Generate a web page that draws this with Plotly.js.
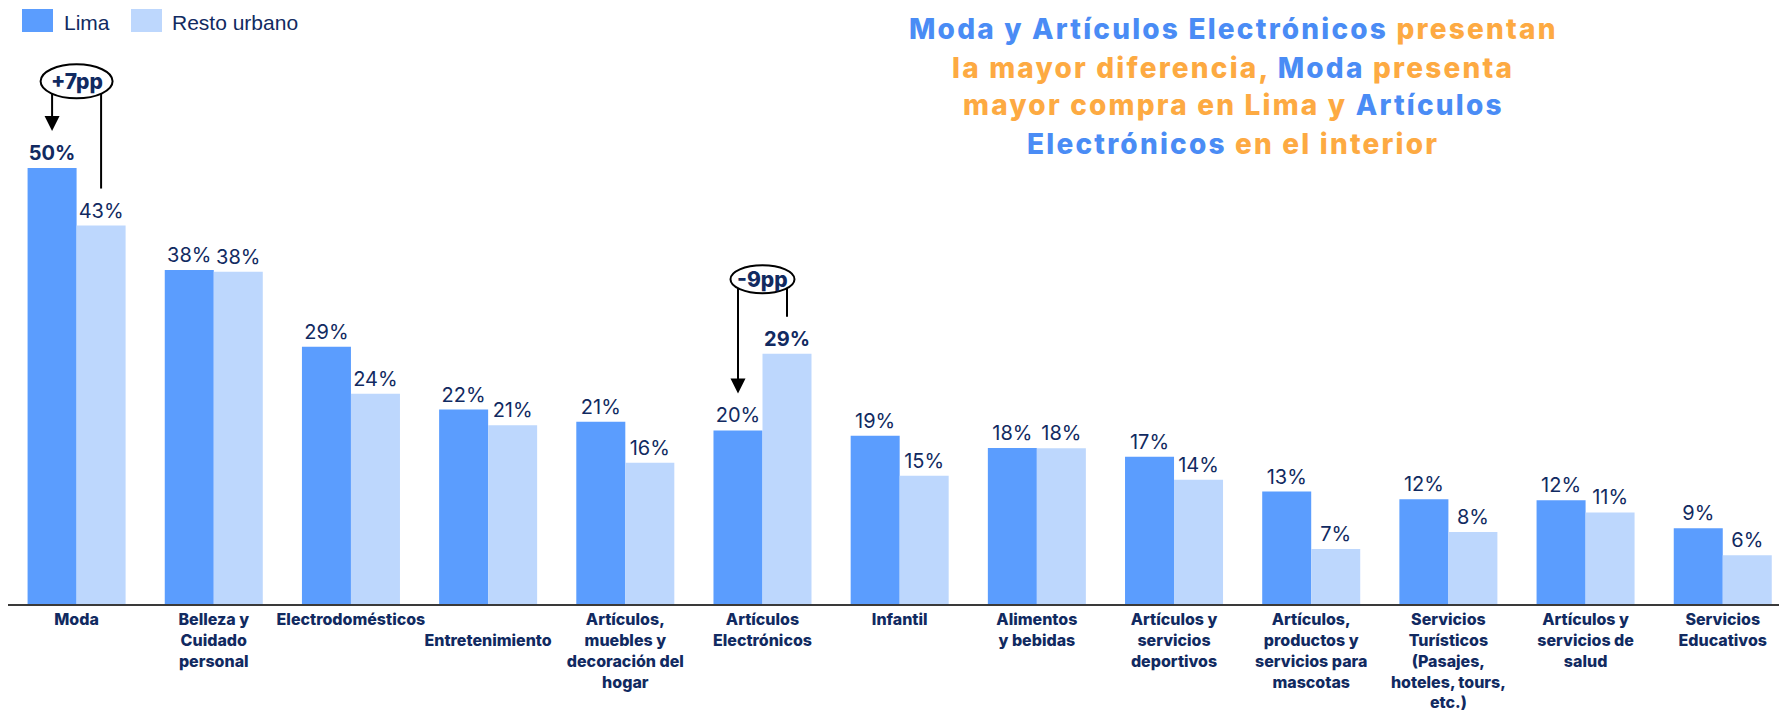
<!DOCTYPE html>
<html><head><meta charset="utf-8">
<script src="https://cdn.plot.ly/plotly-3.0.1.min.js"></script>
<style>html,body{margin:0;padding:0;background:#fff}</style>
</head><body>
<div id="chart" style="width:1781px;height:714px"></div>
<script>
// ---------- DATA ----------
const categories = ['Moda','Belleza y Cuidado personal','Electrodomésticos','Entretenimiento',
  'Artículos, muebles y decoración del hogar','Artículos Electrónicos','Infantil','Alimentos y bebidas',
  'Artículos y servicios deportivos','Artículos, productos y servicios para mascotas',
  'Servicios Turísticos (Pasajes, hoteles, tours, etc.)','Artículos y servicios de salud','Servicios Educativos'];
const tickLabels = ['Moda','Belleza y<br>Cuidado<br>personal','Electrodomésticos',' <br>Entretenimiento',
  'Artículos,<br>muebles y<br>decoración del<br>hogar','Artículos<br>Electrónicos','Infantil','Alimentos<br>y bebidas',
  'Artículos y<br>servicios<br>deportivos','Artículos,<br>productos y<br>servicios para<br>mascotas',
  'Servicios<br>Turísticos<br>(Pasajes,<br>hoteles, tours,<br>etc.)','Artículos y<br>servicios de<br>salud','Servicios<br>Educativos'];
const seriesNames = ['Lima','Resto urbano'];
const limaValues  = [50, 38.3, 29.5, 22.3, 20.9, 19.9, 19.3, 17.9, 16.9, 12.9, 12.0, 11.9, 8.7];
const restoValues = [43.4, 38.1, 24.1, 20.5, 16.2, 28.7, 14.7, 17.85, 14.25, 6.3, 8.25, 10.5, 5.6];
const limaLabels  = [50, 38, 29, 22, 21, 20, 19, 18, 17, 13, 12, 12, 9];
const restoLabels = [43, 38, 24, 21, 16, 29, 15, 18, 14, 7, 8, 11, 6];
const boldLima  = [0];
const boldResto = [5];
const diffCats   = [0, 5];
const diffLabels = ['+7pp', '-9pp'];
const titleLines = [
  [['b','Moda y Artículos Electrónicos '],['o','presentan']],
  [['o','la mayor diferencia, '],['b','Moda '],['o','presenta']],
  [['o','mayor compra en Lima y '],['b','Artículos']],
  [['b','Electrónicos '],['o','en el interior']]
];

// ---------- STYLE / LAYOUT ----------
const W = 1781, H = 714;
const M = {l: 8, r: 2, t: 20, b: 110};
const plotW = W - M.l - M.r, plotH = H - M.t - M.b;
const xRange = [-0.5, 12.41];
const yMax = 66.97;
const pxX = plotW / (xRange[1] - xRange[0]);
const pxY = plotH / yMax;
const navy = '#112a61';
const cLima = '#5b9dfe', cResto = '#bdd7fd';
const cBlue = '#4a8cf5', cOrange = '#fdaa42';
const bargap = 0.2855;
const half = (1 - bargap) / 4; // offset of each bar center from group center
const px = x => (x - M.l) / plotW;
const py = y => (H - M.b - y) / plotH;

function lbl(vals, bold) {
  return vals.map((v, i) => bold.includes(i) ? '<b>' + v + '%</b>' : v + '%');
}

const traces = [
  {type: 'bar', name: seriesNames[0], x: categories, y: limaValues,
   marker: {color: cLima}, text: lbl(limaLabels, boldLima), textposition: 'outside',
   textfont: {family: 'Inter, sans-serif', size: 20, color: navy}, constraintext: 'none',
   cliponaxis: false, hoverinfo: 'none'},
  {type: 'bar', name: seriesNames[1], x: categories, y: restoValues,
   marker: {color: cResto}, text: lbl(restoLabels, boldResto), textposition: 'outside',
   textfont: {family: 'Inter, sans-serif', size: 20, color: navy}, constraintext: 'none',
   cliponaxis: false, hoverinfo: 'none'}
];

const shapes = [];
const annotations = [];

// legend (drawn manually for swatch size)
const legendItems = [
  {name: seriesNames[0], color: cLima, x0: 22, x1: 53, tx: 62},
  {name: seriesNames[1], color: cResto, x0: 131, x1: 162, tx: 170}
];
legendItems.forEach(it => {
  shapes.push({type: 'rect', xref: 'paper', yref: 'paper', x0: px(it.x0), x1: px(it.x1),
    y0: py(32), y1: py(9), fillcolor: it.color, line: {width: 0}});
  annotations.push({xref: 'paper', yref: 'paper', x: px(it.tx), y: py(22.7), xanchor: 'left', yanchor: 'middle',
    text: it.name, showarrow: false, font: {family: 'Liberation Sans, Arial, sans-serif', size: 21, color: navy}});
});

// title lines
const titleY = [29.5, 67.5, 105.5, 143.5];
titleLines.forEach((parts, k) => {
  const txt = parts.map(p => '<span style="color:' + (p[0] === 'b' ? cBlue : cOrange) + ';letter-spacing:2.2px">' + p[1] + '</span>').join('');
  annotations.push({xref: 'paper', yref: 'paper', x: px(1233), y: py(titleY[k]), xanchor: 'center', yanchor: 'middle',
    text: txt, showarrow: false, font: {family: 'Inter, sans-serif', size: 28, color: cBlue, weight: 800}});
});

// difference markers
const ellipseOffset = [86.7, 74.5];
const ellipseR = [[36, 17], [32, 14]];
diffCats.forEach((i, k) => {
  const top = Math.max(limaValues[i], restoValues[i]);
  const cy = top + ellipseOffset[k] / pxY;
  const rx = ellipseR[k][0] / pxX, ry = ellipseR[k][1] / pxY;
  const xl = i - half, xr = i + half;
  const tipY = limaValues[i] + 37 / pxY;
  shapes.push({type: 'line', xref: 'x', yref: 'y', x0: xr, x1: xr, y0: restoValues[i] + 37 / pxY, y1: cy,
    line: {color: '#000', width: 2}, layer: 'above'});
  shapes.push({type: 'line', xref: 'x', yref: 'y', x0: xl, x1: xl, y0: cy, y1: tipY + 10 / pxY,
    line: {color: '#000', width: 2}, layer: 'above'});
  shapes.push({type: 'circle', xref: 'x', yref: 'y', x0: i - rx, x1: i + rx, y0: cy - ry, y1: cy + ry,
    line: {color: '#000', width: 2}, fillcolor: '#fff', layer: 'above'});
  annotations.push({xref: 'x', yref: 'y', x: xl, y: tipY, ax: 0, ay: -16, text: '', showarrow: true,
    arrowhead: 2, arrowsize: 1.5, arrowwidth: 2, arrowcolor: '#000', standoff: 0});
  annotations.push({xref: 'x', yref: 'y', x: i, y: cy, text: diffLabels[k], showarrow: false,
    xanchor: 'center', yanchor: 'middle', font: {family: 'Inter, sans-serif', size: 21, color: navy, weight: 800}});
});

const layout = {
  width: W, height: H, margin: M, paper_bgcolor: '#fff', plot_bgcolor: '#fff',
  barmode: 'group', bargap: bargap, bargroupgap: 0, showlegend: false,
  xaxis: {type: 'category', range: xRange, tickmode: 'array', tickvals: categories, ticktext: tickLabels,
    tickangle: 0, ticks: '', showgrid: false, zeroline: false, showline: true, linecolor: '#3a3a3a', linewidth: 2,
    tickfont: {family: 'Inter, sans-serif', size: 16, color: navy, weight: 800}, fixedrange: true},
  yaxis: {range: [0, yMax], visible: false, showgrid: false, zeroline: false, fixedrange: true},
  shapes: shapes, annotations: annotations,
  font: {family: 'Inter, sans-serif', color: navy}
};

Plotly.newPlot('chart', traces, layout, {displayModeBar: false, staticPlot: true});
</script>
</body></html>
